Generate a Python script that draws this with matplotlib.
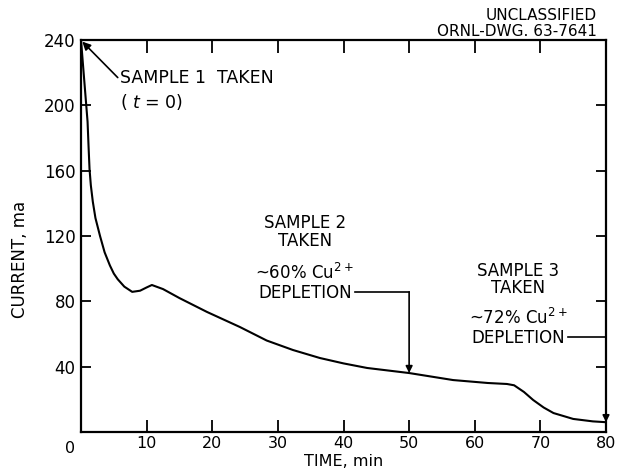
import matplotlib.pyplot as plt

# current vs time
time_min = [0, 0.5, 1.0, 1.15, 1.3, 1.5, 1.8, 2.2, 2.9, 3.6, 4.4, 5.0, 5.6, 6.6, 7.8, 9.0,
            10.0, 10.8, 12.5, 15.0, 19.2, 24.2, 28.3, 32.3, 36.4, 40.0, 43.6,
            50.0, 56.7, 62.0, 64.9, 66.0, 67.5, 68.9, 70.5, 72.0, 75.0, 78.0, 80.0]
current_ma = [240, 215, 190, 175, 161, 151, 141, 131, 120, 110, 102, 97, 93.5, 89, 85.8, 86.5,
              88.5, 90, 87.5, 82, 73.5, 64.3, 56, 50.2, 45.3, 42, 39.2,
              36.1, 31.8, 30.0, 29.4, 28.6, 24.5, 19.6, 15.0, 11.6, 8, 6.5, 6]

xticks = [0, 10, 20, 30, 40, 50, 60, 70, 80]
yticks = [40, 80, 120, 160, 200, 240]

sample_times = [0, 50, 80]
sample_currents = [240, 36.1, 6]

plt.rcParams['font.family'] = 'DejaVu Sans'

fig = plt.figure(figsize=(6.18, 4.76), dpi=100)
ax = fig.add_axes([81 / 618, 1 - 432 / 476, 525 / 618, 392 / 476])

ax.plot(time_min, current_ma, color='black', lw=1.5)

ax.set_xlim(0, 80)
ax.set_ylim(0, 240)
ax.set_xticks(xticks)
ax.set_xticklabels([''] + [str(v) for v in xticks[1:]])
ax.set_yticks(yticks)
for s in ax.spines.values():
    s.set_linewidth(1.6)
ax.tick_params(axis='x', direction='in', length=9, width=1.3, top=True,
               labelsize=11.5, pad=3)
ax.tick_params(axis='y', direction='in', length=7, width=1.3, right=True,
               labelsize=12, pad=4)
# corner zero shared by both axes
ax.text(-1.7, -10, '0', ha='center', va='center', fontsize=11.5)

ax.set_xlabel('TIME, min', fontsize=11.5)
ax.xaxis.label.set_va('center')
ax.xaxis.set_label_coords(0.5, -0.075)
ax.set_ylabel('CURRENT, ma', fontsize=12)
ax.yaxis.label.set_va('center')
ax.yaxis.set_label_coords(-0.116, 0.44)

# sample 1
ax.annotate('', xy=(sample_times[0] + 0.2, sample_currents[0] - 1),
            xytext=(5.6, 217),
            arrowprops=dict(arrowstyle='-|>', color='black', lw=1.2,
                            mutation_scale=12, shrinkA=0, shrinkB=0))
ax.text(5.9, 217, 'SAMPLE 1  TAKEN', fontsize=12.5, ha='left', va='center')
ax.text(5.9, 202, '( $t$ = 0)', fontsize=12.5, ha='left', va='center')

# sample 2
ax.text(34.1, 122.2, 'SAMPLE 2\nTAKEN', fontsize=12, ha='center', va='center',
        linespacing=1.0)
ax.text(34.1, 91.6, '~60% Cu$^{2+}$\nDEPLETION', fontsize=12, ha='center',
        va='center', linespacing=1.05)
ax.plot([41.8, sample_times[1]], [85.8, 85.8], color='black', lw=1.2)
ax.annotate('', xy=(sample_times[1], sample_currents[1]), xytext=(sample_times[1], 85.8),
            arrowprops=dict(arrowstyle='-|>', color='black', lw=1.2,
                            mutation_scale=10, shrinkA=0, shrinkB=0))

# sample 3
ax.text(66.6, 93.4, 'SAMPLE 3\nTAKEN', fontsize=12, ha='center', va='center',
        linespacing=0.95)
ax.text(66.6, 64, '~72% Cu$^{2+}$\nDEPLETION', fontsize=12, ha='center',
        va='center', linespacing=1.05)
ax.plot([74.2, sample_times[2]], [58.2, 58.2], color='black', lw=1.2,
        clip_on=False)
ax.annotate('', xy=(sample_times[2], sample_currents[2]), xytext=(sample_times[2], 58.2),
            arrowprops=dict(arrowstyle='-|>', color='black', lw=1.2,
                            mutation_scale=10, shrinkA=0, shrinkB=0))

fig.text(597 / 618, 1 - 16 / 476, 'UNCLASSIFIED', fontsize=11,
         ha='right', va='center')
fig.text(597 / 618, 1 - 31 / 476, 'ORNL-DWG. 63-7641', fontsize=11,
         ha='right', va='center')

fig.savefig('out.png', dpi=100)
